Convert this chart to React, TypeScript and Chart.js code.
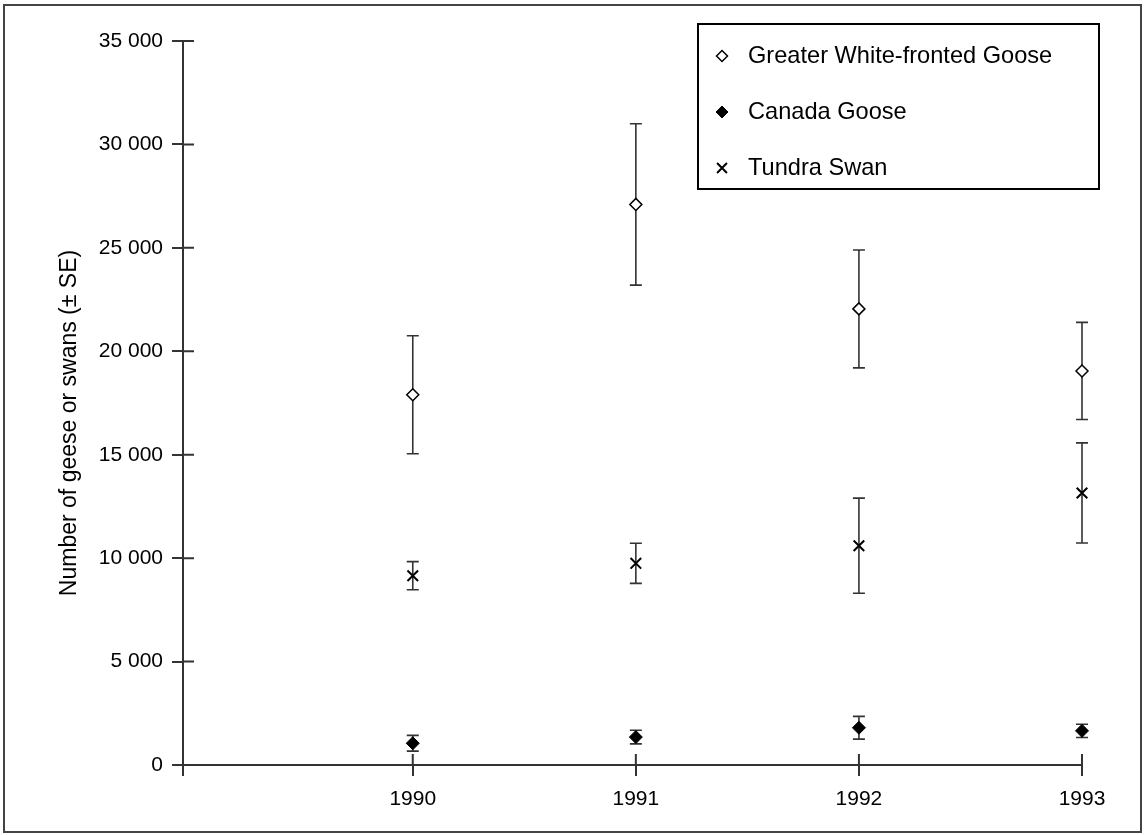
import React, { useEffect, useRef } from 'react';
import { Chart, registerables } from 'chart.js';
import { drawPoint } from 'chart.js/helpers';

Chart.register(...registerables);

// ---- data ----
const years = [1990, 1991, 1992, 1993];
const gwfgMean = [17900, 27100, 22050, 19050];
const gwfgSE = [2850, 3900, 2850, 2350];
const canadaMean = [1050, 1350, 1800, 1650];
const canadaSE = [380, 330, 550, 320];
const tundraMean = [9150, 9750, 10600, 13150];
const tundraSE = [680, 970, 2300, 2420];
const seriesNames = ['Greater White-fronted Goose', 'Canada Goose', 'Tundra Swan'];
const yTickValues = [0, 5000, 10000, 15000, 20000, 25000, 30000, 35000];
const xMin = 1988.97;
const yAxisTitle = 'Number of geese or swans (± SE)';

const FONT = '"Liberation Sans", Arial, sans-serif';
const AXIS = '#333333';

const fmt = (v: number) =>
  v >= 1000 ? `${Math.floor(v / 1000)} ${String(v % 1000).padStart(3, '0')}` : String(v);

const errorBars = {
  id: 'errorBars',
  beforeDatasetsDraw(chart: any) {
    const ctx = chart.ctx;
    const ys = chart.scales.y;
    ctx.save();
    ctx.strokeStyle = AXIS;
    ctx.lineWidth = 1.6;
    chart.data.datasets.forEach((ds: any, i: number) => {
      const meta = chart.getDatasetMeta(i);
      meta.data.forEach((pt: any, j: number) => {
        const v = ds.data[j].y;
        const se = ds.errors[j];
        const x = pt.x;
        const yt = ys.getPixelForValue(v + se);
        const yb = ys.getPixelForValue(v - se);
        const half = 6;
        ctx.beginPath();
        ctx.moveTo(x, yt);
        ctx.lineTo(x, yb);
        ctx.moveTo(x - half, yt);
        ctx.lineTo(x + half, yt);
        ctx.moveTo(x - half, yb);
        ctx.lineTo(x + half, yb);
        ctx.stroke();
      });
    });
    ctx.restore();
  },
};

const innerTicks = {
  id: 'innerTicks',
  afterDraw(chart: any) {
    const ctx = chart.ctx;
    const { x: xs, y: ys } = chart.scales;
    const area = chart.chartArea;
    ctx.save();
    ctx.strokeStyle = AXIS;
    ctx.lineWidth = 2;
    ctx.beginPath();
    ys.ticks.forEach((t: any) => {
      const p = ys.getPixelForValue(t.value);
      ctx.moveTo(area.left, p);
      ctx.lineTo(area.left + 11, p);
    });
    xs.ticks.forEach((t: any) => {
      const p = xs.getPixelForValue(t.value);
      ctx.moveTo(p, area.bottom);
      ctx.lineTo(p, area.bottom - 11);
    });
    ctx.stroke();
    // y axis title
    ctx.fillStyle = '#000';
    ctx.font = `23px ${FONT}`;
    ctx.textAlign = 'center';
    ctx.textBaseline = 'middle';
    ctx.translate(70, 423);
    ctx.rotate(-Math.PI / 2);
    ctx.fillText(yAxisTitle, 0, 0);
    ctx.restore();
  },
};

const frameAndLegend = {
  id: 'frameAndLegend',
  afterDraw(chart: any) {
    const ctx = chart.ctx;
    ctx.save();
    // outer frame
    ctx.strokeStyle = '#444';
    ctx.lineWidth = 2;
    ctx.strokeRect(4, 5, 1137, 827);
    // legend box
    ctx.strokeStyle = '#000';
    ctx.lineWidth = 2;
    ctx.fillStyle = '#fff';
    ctx.fillRect(698, 24, 401, 165);
    ctx.strokeRect(698, 24, 401, 165);
    const rows = [56, 112, 168];
    chart.data.datasets.forEach((ds: any, i: number) => {
      const y = rows[i];
      ctx.fillStyle = ds.pointBackgroundColor;
      ctx.strokeStyle = ds.pointBorderColor;
      ctx.lineWidth = ds.pointBorderWidth;
      drawPoint(ctx, { pointStyle: ds.pointStyle, radius: ds.pointRadius - 0.5, rotation: 0, borderWidth: ds.pointBorderWidth }, 722, y);
      ctx.fillStyle = '#000';
      ctx.font = `23.6px ${FONT}`;
      ctx.textBaseline = 'middle';
      ctx.textAlign = 'left';
      ctx.fillText(ds.label, 748, y);
    });
    ctx.restore();
  },
};

const mk = (vals: number[]) => years.map((yr, i) => ({ x: yr, y: vals[i] }));

export default function App() {
  const ref = useRef<HTMLCanvasElement>(null);
  useEffect(() => {
    if (!ref.current) return;
    const chart = new Chart(ref.current, {
      type: 'scatter',
      data: {
        datasets: [
          {
            label: seriesNames[0],
            data: mk(gwfgMean),
            errors: gwfgSE,
            pointStyle: 'rectRot',
            pointRadius: 6,
            pointBackgroundColor: '#fff',
            pointBorderColor: '#000',
            pointBorderWidth: 1.5,
            clip: false,
          } as any,
          {
            label: seriesNames[1],
            data: mk(canadaMean),
            errors: canadaSE,
            pointStyle: 'rectRot',
            pointRadius: 6.5,
            pointBackgroundColor: '#000',
            pointBorderColor: '#000',
            pointBorderWidth: 1,
            clip: false,
          } as any,
          {
            label: seriesNames[2],
            data: mk(tundraMean),
            errors: tundraSE,
            pointStyle: 'crossRot',
            pointRadius: 7.5,
            pointBackgroundColor: '#000',
            pointBorderColor: '#000',
            pointBorderWidth: 2,
            clip: false,
          } as any,
        ],
      },
      options: {
        responsive: false,
        animation: false,
        events: [],
        layout: { padding: { top: 41, right: 62, bottom: 0, left: 0 } },
        plugins: {
          legend: { display: false },
          tooltip: { enabled: false },
        },
        scales: {
          x: {
            type: 'linear',
            min: xMin,
            max: 1993,
            afterFit: (s: any) => {
              s.height = 70;
            },
            afterBuildTicks: (s: any) => {
              s.ticks = [xMin, ...years].map((v) => ({ value: v }));
            },
            ticks: {
              callback: (v: any) => (years.includes(v) ? String(v) : ''),
              color: '#000',
              font: { size: 21, family: FONT },
              padding: 11,
              maxRotation: 0,
              autoSkip: false,
            },
            grid: { drawOnChartArea: false, tickLength: 11, color: AXIS, lineWidth: 2 },
            border: { color: AXIS, width: 2 },
          },
          y: {
            type: 'linear',
            min: 0,
            max: 35000,
            afterFit: (s: any) => {
              s.width = 183;
            },
            afterBuildTicks: (s: any) => {
              s.ticks = yTickValues.map((v) => ({ value: v }));
            },
            ticks: {
              callback: (v: any) => fmt(Number(v)),
              color: '#000',
              font: { size: 21, family: FONT },
              padding: 9,
              autoSkip: false,
            },
            grid: { drawOnChartArea: false, tickLength: 11, color: AXIS, lineWidth: 2 },
            border: { color: AXIS, width: 2 },
          },
        },
      } as any,
      plugins: [errorBars, innerTicks, frameAndLegend],
    });
    return () => chart.destroy();
  }, []);
  return (
    <div style={{ position: 'absolute', left: 0, top: 0, width: 1144, height: 835, background: '#fff' }}>
      <canvas ref={ref} width={1144} height={835} style={{ display: 'block' }} />
    </div>
  );
}
